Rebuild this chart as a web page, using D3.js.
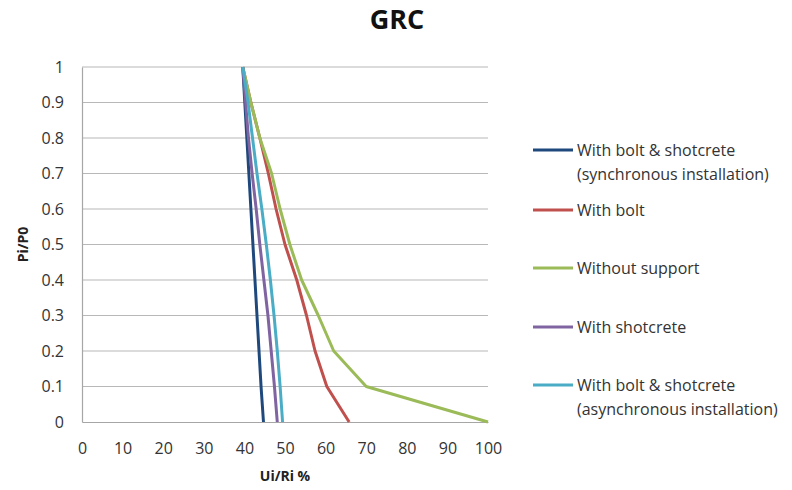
<!DOCTYPE html>
<html><head><meta charset="utf-8">
<script src="https://cdn.jsdelivr.net/npm/d3@7"></script>
<style>body{margin:0;background:#fff}svg{display:block}</style>
</head><body>
<svg id="c" width="792" height="490"></svg>
<script>
const yLevels = [1, 0.9, 0.8, 0.7, 0.6, 0.5, 0.4, 0.3, 0.2, 0.1, 0];
const seriesNames = ["With bolt & shotcrete\n(synchronous installation)", "With bolt", "Without support", "With shotcrete", "With bolt & shotcrete\n(asynchronous installation)"];
const seriesColors = ["#1F497D", "#C0504D", "#9BBB59", "#8064A2", "#4BACC6"];
const syncX    = [39.6, 40.1, 40.6, 41.1, 41.6, 42.1, 42.6, 43.1, 43.6, 44.1, 44.7];
const boltX    = [39.6, 41.6, 43.8, 45.9, 47.8, 50.0, 52.9, 55.3, 57.4, 60.3, 65.8];
const noneX    = [39.6, 41.6, 43.8, 46.7, 48.8, 51.2, 54.1, 58.2, 62.0, 70.0, 100];
const shotX    = [39.6, 40.3, 41.0, 41.9, 42.9, 43.8, 44.8, 45.8, 46.6, 47.4, 48.1];
const asyncX   = [39.6, 40.9, 42.0, 43.1, 44.3, 45.4, 46.4, 47.3, 48.1, 48.8, 49.4];
const seriesX = [syncX, boltX, noneX, shotX, asyncX];
const xTicks = [0,10,20,30,40,50,60,70,80,90,100];
const yTicks = [0,0.1,0.2,0.3,0.4,0.5,0.6,0.7,0.8,0.9,1];

const svg = d3.select("#c");
const font = "'Open Sans', sans-serif";
const x = d3.scaleLinear().domain([0,100]).range([82,488]);
const y = d3.scaleLinear().domain([0,1]).range([422,67]);

// gridlines
svg.append("g").selectAll("line").data(yTicks.filter(d=>d>0)).join("line")
  .attr("x1", x(0)).attr("x2", x(100)).attr("y1", d=>y(d)).attr("y2", d=>y(d))
  .attr("stroke", "#b8b8b8").attr("stroke-width", 1.2);

// axes
const yAxis = d3.axisLeft(y).tickValues(yTicks).tickSize(0).tickPadding(18).tickFormat(d=>String(d));
const gy = svg.append("g").attr("transform", `translate(${x(0)},0)`).call(yAxis);
const xAxis = d3.axisBottom(x).tickValues(xTicks).tickSize(0).tickPadding(21).tickFormat(d=>String(d));
const gx = svg.append("g").attr("transform", `translate(0,${y(0)})`).call(xAxis);
[gy, gx].forEach(g => {
  g.select(".domain").attr("stroke", "#a6a6a6").attr("stroke-width", 1.2);
  g.selectAll("text").attr("font-family", font).attr("font-size", 16).attr("fill", "#333");
});

// lines
const line = d3.line().x(d=>x(d[0])).y(d=>y(d[1]));
seriesX.forEach((xs, i) => {
  svg.append("path").datum(xs.map((v, j) => [v, yLevels[j]]))
    .attr("d", line).attr("fill", "none")
    .attr("stroke", seriesColors[i]).attr("stroke-width", 3).attr("stroke-linejoin", "round");
});

// title
svg.append("text").attr("x", 397).attr("y", 29).attr("text-anchor", "middle")
  .attr("font-family", font).attr("font-weight", "bold").attr("font-size", 27).attr("fill", "#111").text("GRC");

// axis titles
svg.append("text").attr("transform", `translate(28,${(y(0)+y(1))/2}) rotate(-90)`)
  .attr("text-anchor", "middle").attr("font-family", font).attr("font-weight", "bold")
  .attr("font-size", 14).attr("fill", "#222").text("Pi/P0");
svg.append("text").attr("x", (x(0)+x(100))/2).attr("y", 481).attr("text-anchor", "middle")
  .attr("font-family", font).attr("font-weight", "bold").attr("font-size", 14).attr("fill", "#222").text("Ui/Ri %");

// legend
const legendY = [150, 210, 268, 327, 385];
seriesNames.forEach((name, i) => {
  const g = svg.append("g").attr("transform", `translate(533,${legendY[i]})`);
  g.append("line").attr("x1", 0).attr("x2", 40).attr("y1", 0).attr("y2", 0)
    .attr("stroke", seriesColors[i]).attr("stroke-width", 3);
  const t = g.append("text").attr("x", 44).attr("y", 5.5).attr("font-family", font)
    .attr("font-size", 16).attr("fill", "#333");
  name.split("\n").forEach((s, k) => {
    t.append("tspan").attr("x", 44).attr("dy", k === 0 ? 0 : 24).text(s);
  });
});
</script>
</body></html>
